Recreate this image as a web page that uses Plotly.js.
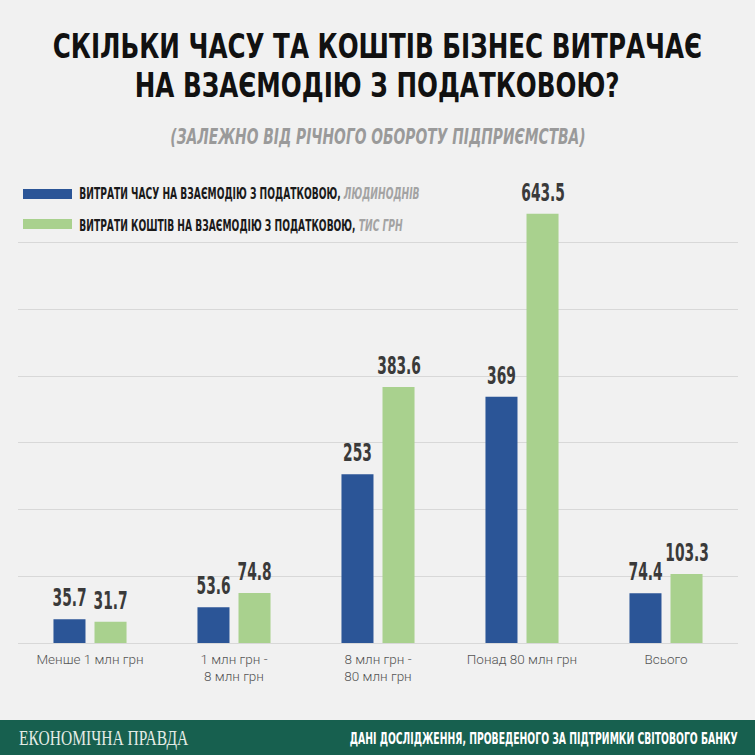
<!DOCTYPE html>
<html>
<head>
<meta charset="utf-8">
<script src="https://cdn.plot.ly/plotly-3.0.1.min.js"></script>
<style>html,body{margin:0;padding:0;background:#f1f1f1;}</style>
</head>
<body>
<div id="chart" style="width:755px;height:755px;"></div>
<script>
// ---- data ----
const categories = ["Менше 1 млн грн", "1 млн грн -<br>8 млн грн", "8 млн грн -<br>80 млн грн", "Понад 80 млн грн", "Всього"];
const timeCosts = [35.7, 53.6, 253, 369, 74.4];     // людинодні
const moneyCosts = [31.7, 74.8, 383.6, 643.5, 103.3]; // тис грн
const seriesNames = ["ВИТРАТИ ЧАСУ НА ВЗАЄМОДІЮ З ПОДАТКОВОЮ,", "ВИТРАТИ КОШТІВ НА ВЗАЄМОДІЮ З ПОДАТКОВОЮ,"];
const seriesUnits = ["ЛЮДИНОДНІВ", "ТИС ГРН"];
const titleLines = ["СКІЛЬКИ ЧАСУ ТА КОШТІВ БІЗНЕС ВИТРАЧАЄ", "НА ВЗАЄМОДІЮ З ПОДАТКОВОЮ?"];
const subtitle = "(ЗАЛЕЖНО ВІД РІЧНОГО ОБОРОТУ ПІДПРИЄМСТВА)";
const footerLeft = "ЕКОНОМІЧНА ПРАВДА";
const footerRight = "ДАНІ ДОСЛІДЖЕННЯ, ПРОВЕДЕНОГО ЗА ПІДТРИМКИ СВІТОВОГО БАНКУ";

// ---- style ----
const BLUE = "#2b5597", GREEN = "#a9d18e", BG = "#f1f1f1";
const COND = "'DejaVu Sans Condensed', 'DejaVu Sans', sans-serif";
const W = 755, H = 755, ML = 18, MR = 17, MT = 176, MB = 112;
const PH = H - MT - MB, PW = W - ML - MR;
const py = p => (H - MB - p) / PH;
const px = p => (p - ML) / PW;

const traces = [
  {type: "bar", x: categories, y: timeCosts, name: seriesNames[0], marker: {color: BLUE}, hoverinfo: "y"},
  {type: "bar", x: categories, y: moneyCosts, name: seriesNames[1], marker: {color: GREEN}, hoverinfo: "y"}
];

const annotations = [];
const stretch = []; // horizontal condense factor per annotation
function addAnn(a, f) { annotations.push(a); stretch.push(f); }

// value labels
[timeCosts, moneyCosts].forEach((vals, s) => {
  vals.forEach((v, i) => {
    addAnn({x: categories[i], y: v, xref: "x", yref: "y", text: String(v),
      showarrow: false, xshift: s === 0 ? -20.5 : 20.5, yanchor: "bottom", yshift: 5,
      font: {family: COND, size: 24, color: "#3a3a3a", weight: 700}}, 0.64);
  });
});
// titles
addAnn({xref: "paper", yref: "paper", x: px(377), y: py(46.5), text: titleLines[0], showarrow: false,
  xanchor: "center", yanchor: "middle", font: {family: COND, size: 34, color: "#111", weight: 700}}, 0.805);
addAnn({xref: "paper", yref: "paper", x: px(377), y: py(85), text: titleLines[1], showarrow: false,
  xanchor: "center", yanchor: "middle", font: {family: COND, size: 34, color: "#111", weight: 700}}, 0.805);
addAnn({xref: "paper", yref: "paper", x: px(378), y: py(136), text: "<i>" + subtitle + "</i>", showarrow: false,
  xanchor: "center", yanchor: "middle", font: {family: COND, size: 22, color: "#9a9a9a", weight: 700}}, 0.70);
// legend texts
[194, 225].forEach((yy, s) => {
  addAnn({xref: "paper", yref: "paper", x: px(77), y: py(yy), showarrow: false, xanchor: "left", yanchor: "middle",
    text: seriesNames[s] + " <span style='color:#a3a3a3'><i>" + seriesUnits[s] + "</i></span>",
    font: {family: COND, size: 16, color: "#1a1a1a", weight: 700}}, 0.636);
});
// footer
addAnn({xref: "paper", yref: "paper", x: px(17), y: py(738), text: footerLeft, showarrow: false,
  xanchor: "left", yanchor: "middle", font: {family: "'Liberation Serif', 'DejaVu Serif', serif", size: 21, color: "#e4ece6"}}, 0.74);
addAnn({xref: "paper", yref: "paper", x: px(740), y: py(738), text: footerRight, showarrow: false,
  xanchor: "right", yanchor: "middle", font: {family: COND, size: 16, color: "#ffffff", weight: 700}}, 0.645);

const shapes = [
  {type: "rect", xref: "paper", yref: "paper", x0: px(-5), x1: px(W + 5), y0: py(720), y1: py(H + 5),
    fillcolor: "#17604f", line: {width: 0}, layer: "below"},
  {type: "rect", xref: "paper", yref: "paper", x0: px(23), x1: px(72), y0: py(199), y1: py(189),
    fillcolor: BLUE, line: {width: 0}},
  {type: "rect", xref: "paper", yref: "paper", x0: px(23), x1: px(72), y0: py(229), y1: py(219),
    fillcolor: GREEN, line: {width: 0}}
];

const layout = {
  width: W, height: H,
  margin: {l: ML, r: MR, t: MT, b: MB, pad: 0},
  paper_bgcolor: BG, plot_bgcolor: BG,
  showlegend: false,
  barmode: "group", bargap: 0.43, bargroupgap: 0.22,
  xaxis: {type: "category", showgrid: false, zeroline: false, showline: false, ticks: "",
    tickfont: {family: "Roboto, 'Open Sans', sans-serif", size: 13.5, color: "#555", weight: 300},
    ticklabelstandoff: 6, fixedrange: true},
  yaxis: {range: [0, 700], dtick: 100, showticklabels: false, showgrid: true, gridcolor: "#d8d8d8", gridwidth: 1,
    zeroline: true, zerolinecolor: "#d8d8d8", zerolinewidth: 1, showline: false, fixedrange: true},
  annotations: annotations,
  shapes: shapes
};

Plotly.newPlot("chart", traces, layout, {displayModeBar: false, staticPlot: true}).then(gd => {
  // condense annotation text horizontally (no narrow bold font is installed)
  annotations.forEach((a, i) => {
    const t = gd.querySelector('g.annotation[data-index="' + i + '"] text.annotation-text');
    if (!t) return;
    const origin = a.xanchor === "left" ? "left" : (a.xanchor === "right" ? "right" : "center");
    t.style.transformBox = "fill-box";
    t.style.transformOrigin = origin + " center";
    t.style.transform = "scaleX(" + stretch[i] + ")";
  });
});
</script>
</body>
</html>
